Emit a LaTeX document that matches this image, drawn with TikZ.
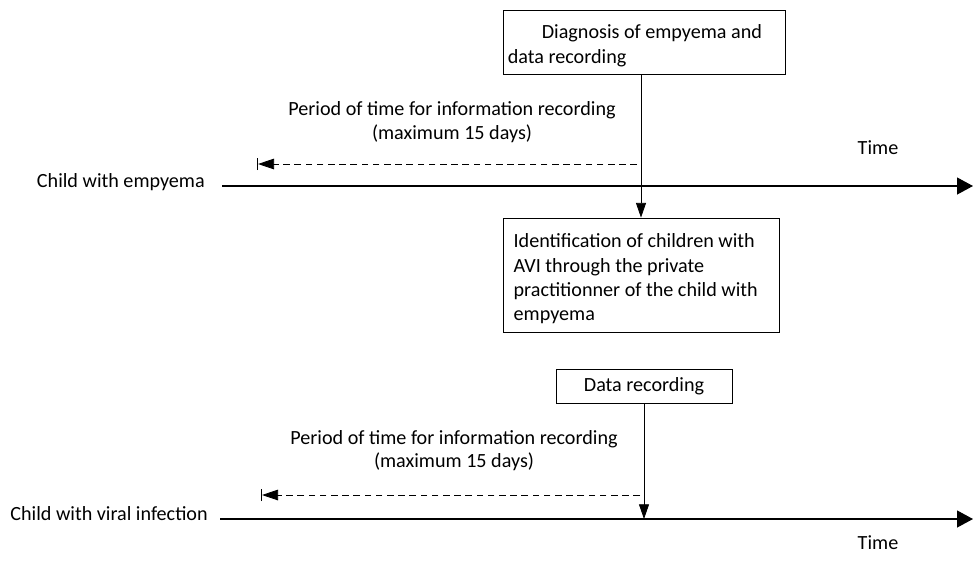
\documentclass[tikz,border=0pt]{standalone}
\usepackage{fontspec}
\setmainfont{Carlito}
\usetikzlibrary{arrows.meta, positioning}
\tikzset{%
>={Triangle[length=11pt,width=7.5pt]},
  % boxes, labels and lines
            stagebox/.style = {draw=black, line width=0.6pt, align=flush left,
                            inner xsep=0pt, inner ysep=0pt},
            lbl/.style = {font=\fontsize{15.1}{18.3}\selectfont, inner sep=0pt},
            timeline/.style = {line width=0.9pt, -{Triangle[length=12pt,width=12.75pt]}},
            flow/.style = {line width=0.6pt, ->},
            period/.style = {line width=0.6pt, dash pattern=on 5pt off 3.4pt,
                            -{Triangle[length=12pt,width=8pt] Bar[width=9pt,line width=0.8pt]}}
}
\begin{document}
\begin{tikzpicture}[x=0.75pt, y=-0.75pt, every node/.append style={lbl}]
                        \useasboundingbox (0,0) rectangle (973,572);
                        % child with empyema
                        \node[stagebox, minimum width=212pt, minimum height=48pt, text width=205pt] (diag) at (644.5,42)
                            {\rule{0pt}{16.3pt}\hspace*{25.5pt}Diagnosis of empyema and\\data recording};
                        \node[stagebox, minimum width=207pt, minimum height=85.5pt, text width=191pt] (ident) at (641,275)
                            {\rule{0pt}{16.3pt}Identification of children with\\AVI through the private\\practitionner of the child with\\empyema};
                        \node[align=center, font=\fontsize{15.1}{17.6}\selectfont] (per1) at (452,122) {Period of time for information recording\\(maximum 15 days)};
                        \node[anchor=base east] (child1) at (205,187) {Child with empyema};
                        \node (time1) at (878,148) {Time};
                        \coordinate (t1a) at (222,186);
                        \coordinate (t1b) at (973,186);
                        \coordinate (d1a) at (637,164);
                        \coordinate (d1b) at (257,164);
                        \draw[timeline] (t1a) -- (t1b);
                        \draw[period] (d1a) -- (d1b);
                        \draw[flow] (diag.south -| ident.north) -- (ident.north);
                        % child with viral infection
                        \node[stagebox, minimum width=132pt, minimum height=26pt, align=center] (datarec) at (644,386.5) {Data recording};
                        \node[align=center, font=\fontsize{15.1}{17.6}\selectfont] (per2) at (454,450.5) {Period of time for information recording\\(maximum 15 days)};
                        \node[anchor=base east] (child2) at (208,520) {Child with viral infection};
                        \node (time2) at (878,543) {Time};
                        \coordinate (t2a) at (220,519);
                        \coordinate (t2b) at (973,519);
                        \coordinate (d2a) at (640,495);
                        \coordinate (d2b) at (261,495);
                        \draw[timeline] (t2a) -- (t2b);
                        \draw[period] (d2a) -- (d2b);
                        \draw[flow] (datarec.south) -- (datarec.south |- t2a);
                    \end{tikzpicture}
\end{document}
